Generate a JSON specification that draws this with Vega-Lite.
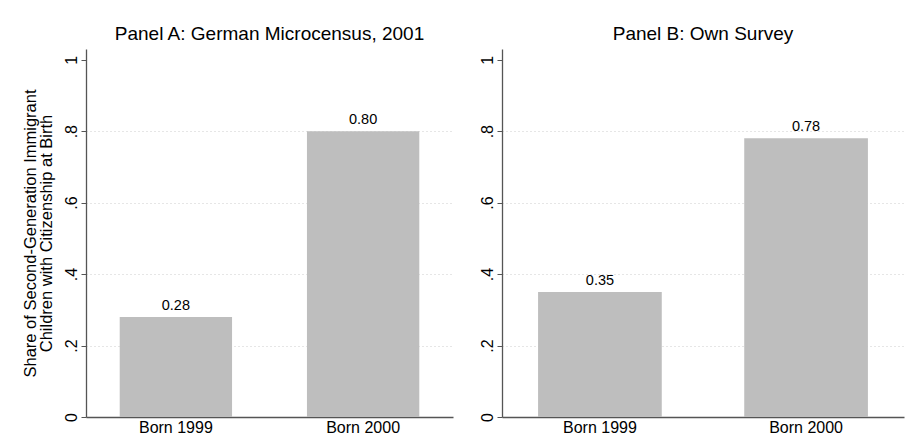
{
  "$schema": "https://vega.github.io/schema/vega-lite/v6.json",
  "padding": {"left": 22, "top": 25, "right": 5, "bottom": 5},
  "background": "white",
  "config": {
    "font": "Liberation Sans",
    "view": {"stroke": null},
    "concat": {"spacing": 26},
    "title": {"fontSize": 19, "fontWeight": "normal", "color": "black", "font": "Liberation Sans"},
    "axis": {
      "domainColor": "#555555",
      "tickColor": "#555555",
      "labelColor": "black",
      "titleColor": "black",
      "labelFont": "Liberation Sans",
      "titleFont": "Liberation Sans"
    }
  },
  "datasets": {
    "a": [
      {"cohort": "Born 1999", "share": 0.28},
      {"cohort": "Born 2000", "share": 0.80}
    ],
    "b": [
      {"cohort": "Born 1999", "share": 0.35},
      {"cohort": "Born 2000", "share": 0.78}
    ]
  },
  "hconcat": [
    {
      "width": 367,
      "height": 368,
      "title": {"text": "Panel A: German Microcensus, 2001", "offset": 5},
      "data": {"name": "a"},
      "encoding": {
        "x": {
          "field": "cohort", "type": "nominal", "sort": null,
          "scale": {"paddingInner": 0.4, "paddingOuter": 0.18},
          "axis": {"title": null, "labelAngle": 0, "labelFontSize": 16, "ticks": false, "labelPadding": 2, "domainWidth": 1.3}
        },
        "y": {
          "field": "share", "type": "quantitative",
          "scale": {"domain": [0, 1.03], "nice": false},
          "axis": {
            "values": [0, 0.2, 0.4, 0.6, 0.8, 1],
            "labelExpr": "datum.value == 0 ? '0' : datum.value == 1 ? '1' : replace(format(datum.value, '.1f'), '0.', '.')",
            "labelAngle": -90,
            "labelAlign": "center",
            "labelBaseline": "bottom",
            "labelFontSize": 16,
            "labelPadding": 2,
            "tickSize": 5,
            "domainWidth": 1.3,
            "grid": true,
            "gridDash": [1, 3],
            "gridColor": "#cccccc",
            "gridOpacity": {"condition": {"test": "datum.value == 0 || datum.value == 1", "value": 0}, "value": 1},
            "title": ["Share of Second-Generation Immigrant", "Children with Citizenship at Birth"],
            "titleFontSize": 16.5,
            "titleFontWeight": "normal",
            "titlePadding": 9,
            "titleLineHeight": 16
          }
        }
      },
      "layer": [
        {"mark": {"type": "bar", "color": "#bebebe"}},
        {
          "mark": {"type": "text", "baseline": "bottom", "dy": -4, "fontSize": 14.5, "color": "black"},
          "encoding": {"text": {"field": "share", "type": "quantitative", "format": ".2f"}}
        }
      ]
    },
    {
      "width": 402,
      "height": 368,
      "title": {"text": "Panel B: Own Survey", "offset": 5},
      "data": {"name": "b"},
      "encoding": {
        "x": {
          "field": "cohort", "type": "nominal", "sort": null,
          "scale": {"paddingInner": 0.4, "paddingOuter": 0.175},
          "axis": {"title": null, "labelAngle": 0, "labelFontSize": 16, "ticks": false, "labelPadding": 2, "domainWidth": 1.3}
        },
        "y": {
          "field": "share", "type": "quantitative",
          "scale": {"domain": [0, 1.03], "nice": false},
          "axis": {
            "values": [0, 0.2, 0.4, 0.6, 0.8, 1],
            "labelExpr": "datum.value == 0 ? '0' : datum.value == 1 ? '1' : replace(format(datum.value, '.1f'), '0.', '.')",
            "labelAngle": -90,
            "labelAlign": "center",
            "labelBaseline": "bottom",
            "labelFontSize": 16,
            "labelPadding": 2,
            "tickSize": 5,
            "domainWidth": 1.3,
            "grid": true,
            "gridDash": [1, 3],
            "gridColor": "#cccccc",
            "gridOpacity": {"condition": {"test": "datum.value == 0 || datum.value == 1", "value": 0}, "value": 1},
            "title": null
          }
        }
      },
      "layer": [
        {"mark": {"type": "bar", "color": "#bebebe"}},
        {
          "mark": {"type": "text", "baseline": "bottom", "dy": -4, "fontSize": 14.5, "color": "black"},
          "encoding": {"text": {"field": "share", "type": "quantitative", "format": ".2f"}}
        }
      ]
    }
  ]
}
